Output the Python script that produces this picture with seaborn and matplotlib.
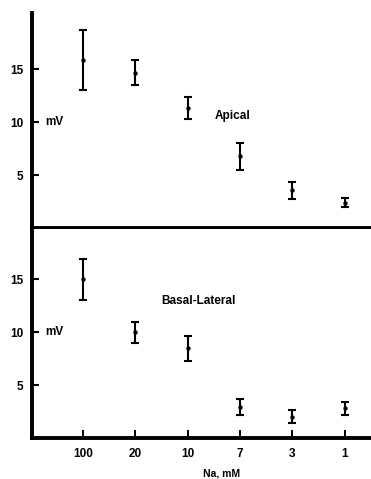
import numpy as np
import matplotlib
matplotlib.use("Agg")
import matplotlib.pyplot as plt
import seaborn as sns
import pandas as pd

# Na concentrations (mM), shown as categories
conc = ["100", "20", "10", "7", "3", "1"]

# apical potentials (mV) and error bars
apical_mv = [15.9, 14.7, 11.35, 6.8, 3.6, 2.45]
apical_err = [2.8, 1.2, 1.05, 1.25, 0.8, 0.45]

# basal-lateral potentials (mV) and error bars
basal_mv = [15.0, 10.0, 8.5, 2.95, 2.05, 2.85]
basal_err = [1.95, 1.0, 1.15, 0.75, 0.6, 0.6]

yticks = [5, 10, 15]

sns.set_style("white")
plt.rcParams['font.family'] = ['Liberation Sans', 'DejaVu Sans']
plt.rcParams['font.weight'] = 'bold'
plt.rcParams['text.color'] = 'black'
plt.rcParams['xtick.color'] = 'black'
plt.rcParams['ytick.color'] = 'black'
plt.rcParams['axes.labelcolor'] = 'black'

fig = plt.figure(figsize=(3.71, 4.79), dpi=100)
ax_top = fig.add_axes([0.0863, 0.523, 0.9137, 0.450])
ax_bot = fig.add_axes([0.0863, 0.0846, 0.9137, 0.4374])

panels = [
    (ax_top, apical_mv, apical_err, "Apical", (2.52, 10.6), 20.33),
    (ax_bot, basal_mv, basal_err, "Basal-Lateral", (1.5, 12.95), 19.76),
]

xpos = np.arange(len(conc))

for ax, vals, errs, name, txt_xy, ytop in panels:
    df = pd.DataFrame({"x": xpos, "mv": vals})
    ax.errorbar(xpos, vals, yerr=errs, fmt="none", ecolor="black",
                elinewidth=1.5, capsize=2.6, capthick=1.5, zorder=2)
    sns.scatterplot(data=df, x="x", y="mv", ax=ax, color="black", s=10,
                    edgecolor="black", linewidth=0, zorder=3)
    ax.set_xlim(-0.975, 5.5)
    ax.set_ylim(0, ytop)
    ax.set_yticks(yticks)
    ax.set_yticklabels([str(t) for t in yticks], fontsize=8.5, fontweight="bold")
    ax.tick_params(axis="y", direction="in", length=5, width=1.5, pad=6,
                   left=True)
    for side in ["top", "right"]:
        ax.spines[side].set_visible(False)
    for side in ["left", "bottom"]:
        ax.spines[side].set_linewidth(2.8)
        ax.spines[side].set_color("black")
    ax.set_ylabel("")
    ax.set_xlabel("")
    ax.text(-0.73, 10, "mV", fontsize=8.5, fontweight="bold", va="center", ha="left")
    ax.text(txt_xy[0], txt_xy[1], name, fontsize=8.5, fontweight="bold",
            va="center", ha="left")

# top panel: no x ticks
ax_top.set_xticks([])

# bottom panel: category ticks
ax_bot.set_xticks(xpos)
ax_bot.set_xticklabels(conc, fontsize=8.5, fontweight="bold")
ax_bot.tick_params(axis="x", direction="in", length=5.5, width=1.4, pad=7,
                   bottom=True)
ax_bot.set_xlabel("Na, mM", fontsize=7.5, fontweight="bold")
ax_bot.xaxis.set_label_coords(0.56, -0.145)

fig.savefig("out.png", dpi=100)
